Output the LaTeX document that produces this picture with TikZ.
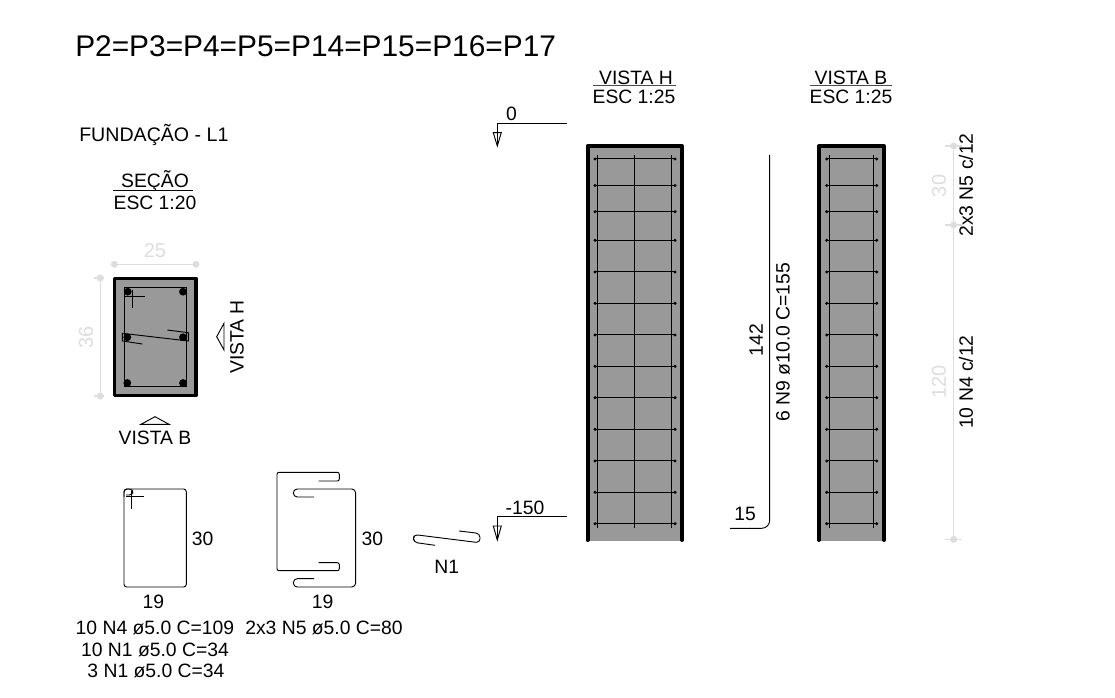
\documentclass[tikz,border=0pt]{standalone}
\usepackage{fontspec}
\setmainfont{Liberation Sans}
\newcommand{\fs}[1]{\fontsize{#1}{#1}\selectfont}
\definecolor{dimc}{HTML}{DDDDDD}
\definecolor{concc}{HTML}{999999}
\tikzset{
  txt/.style={inner sep=0pt,text=black,font=\fs{14.5}},
  title/.style={inner sep=0pt,text=black,font=\fs{22.4}},
  dimtxt/.style={inner sep=0pt,text=dimc,font=\fs{15}},
  dimline/.style={draw=dimc,line width=1pt},
  dimdot/.style={fill=dimc,draw=none},
  thin line/.style={draw=black,line width=0.7pt},
  conc/.style={fill=concc,draw=none},
  heavy/.style={draw=black,line width=3pt,line cap=round,line join=round},
  sectheavy/.style={draw=black,line width=2.6pt,line cap=round,line join=round},
  bar/.style={draw=black,line width=0.75pt},
  bardot/.style={fill=black,draw=none},
}
\begin{document}
\begin{tikzpicture}[x=0.75pt,y=-0.75pt]
\useasboundingbox (0,0) rectangle (1115,698);
% titles
\node[title,anchor=west] (t) at (75,46) {P2=P3=P4=P5=P14=P15=P16=P17};
\node[txt,anchor=west,font=\fs{14.7}] (fund) at (79,135) {FUNDAÇÃO - L1};
\node[txt] (sec) at (155,181) {SEÇÃO};
\node[txt] (secesc) at (155,202.5) {ESC 1:20};
\draw[thin line] (113,190.5) -- (193,190.5);
\node[txt] (vh) at (636,78) {VISTA H};
\node[txt] (vhesc) at (634,97) {ESC 1:25};
\draw[thin line,draw=black!70] (593,85.7) -- (676,85.7);
\node[txt] (vb) at (851,78) {VISTA B};
\node[txt] (vbesc) at (851,97) {ESC 1:25};
\draw[thin line,draw=black!70] (810,85.7) -- (892,85.7);
% section
\fill[conc] (114.5,278.5) rectangle (196,395.5);
\draw[sectheavy] (114.5,278.5) rectangle (196,395.5);
\draw[bar] (124,287.7) rectangle (186.3,386.7);
\foreach \p in {(127.7,291.7),(183,291.7),(127.3,337.3),(183,337.3),(127.3,383),(183,383)}
  \fill[bardot] \p circle (3.9);
\draw[thin line] (124.3,296) -- (144.7,296) (132,290) -- (132,308.3);
\draw[thin line] (142.3,344) -- (122.3,341) -- (122.3,333.3) -- (188.3,341) -- (188.3,332.7) -- (167.3,330);
\draw[dimline] (114.3,264.3) -- (196,264.3);
\fill[dimdot] (114.3,264.3) circle (3.5) (196,264.3) circle (3.5);
\draw[dimline] (100.3,278) -- (100.3,396) (94,278) -- (104,278) (94,396) -- (104,396);
\fill[dimdot] (100.3,278) circle (3.5) (100.3,396) circle (3.5);
\node[dimtxt] (d25) at (155,251) {25};
\node[dimtxt,rotate=90] (d36) at (86,337) {36};
\node[txt,rotate=90] (vistah) at (237,337) {VISTA H};
\draw[thin line] (224,323.3) -- (216.7,336.7) -- (224,350) -- cycle;
\node[txt] (vistab) at (155,438) {VISTA B};
\draw[thin line] (141,424.3) -- (155,416.7) -- (169,424.3) -- cycle;
% N4
\draw[thin line,rounded corners=2] (124,489) rectangle (186.3,587);
\draw[thin line,rounded corners=2.5] (124,497) -- (124,489) -- (132.7,489) -- (132.7,495) -- (126,495);
\draw[thin line] (126,496.7) -- (144.3,496.7) (131.7,490.7) -- (131.7,509.3);
\node[txt] (a30) at (202.7,539) {30};
\node[txt] (a19) at (153.3,602) {19};
% N5
\draw[thin line,rounded corners=1.5] (318.7,481) -- (339.3,481) -- (339.3,472.3) -- (277,472.3) -- (277,570.7) -- (339.3,570.7) -- (339.3,562.7) -- (318.7,562.7);
\draw[thin line,rounded corners=3] (314,497) -- (293.3,497) -- (293.3,489) -- (355.7,489) -- (355.7,587) -- (293.3,587) -- (293.3,578.7) -- (314,578.7);
\node[txt] (b30) at (372.3,539) {30};
\node[txt] (b19) at (322.7,602) {19};
% N1
\draw[thin line,rounded corners=3] (435,545.3) -- (413.5,542.3) -- (413.5,534.5) -- (480,542.8) -- (480,533.5) -- (459,531);
\node[txt] (n1) at (446.7,567) {N1};
% bottom text
\node[txt] (l1) at (155,628) {10 N4 ø5.0 C=109};
\node[txt] (l2) at (324,628) {2x3 N5 ø5.0 C=80};
\node[txt] (l3) at (155,650) {10 N1 ø5.0 C=34};
\node[txt] (l4) at (156,671) {3 N1 ø5.0 C=34};
% levels
\draw[thin line] (566.7,123.3) -- (497.3,123.3) -- (497.3,146);
\draw[thin line] (493.3,132.7) -- (501.3,132.7) -- (497.3,146) -- cycle;
\node[txt] (l0) at (511.5,114) {0};
\draw[thin line] (566.7,516.7) -- (497.3,516.7) -- (497.3,540);
\draw[thin line] (493.3,526) -- (501.3,526) -- (497.3,540) -- cycle;
\node[txt] (l150) at (525,508) {-150};
% view H
\fill[conc] (587.5,146) rectangle (682,541);
\draw[heavy] (587.5,540) -- (587.5,146) -- (682,146) -- (682,540);
\foreach \y in {159,185.5,211.7,240.3,272,303.3,335,366.3,397.7,429.3,461,492.3,523.7}{
  \draw[bar] (595,\y) -- (675,\y);
  \fill[bardot] (595,\y) circle (1.7) (675,\y) circle (1.7);
}
\draw[bar] (597.7,155) -- (597.7,527.7) (634.3,155) -- (634.3,527.7) (671.7,155) -- (671.7,527.7);
% view B
\fill[conc] (819,146) rectangle (884,541);
\draw[heavy] (819,540) -- (819,146) -- (884,146) -- (884,540);
\foreach \y in {159,185.5,211.7,240.3,272,303.3,335,366.3,397.7,429.3,461,492.3,523.7}{
  \draw[bar] (826.7,\y) -- (876.7,\y);
  \fill[bardot] (826.7,\y) circle (1.7) (876.7,\y) circle (1.7);
}
\draw[bar] (829,155) -- (829,527.7) (873.3,155) -- (873.3,527.7);
% N9
\draw[thin line,rounded corners=6] (769.7,155) -- (769.7,528.3) -- (730,528.3);
\node[txt] (n15) at (745,514) {15};
\node[txt,rotate=90] (n142) at (756,340) {142};
\node[txt,rotate=90] (n9) at (783,342) {6 N9 ø10.0 C=155};
% right dim
\draw[dimline] (953.7,146) -- (953.7,539.3);
\draw[dimline] (945,146) -- (962,146) (945,225) -- (962,225) (945,539.3) -- (962,539.3);
\fill[dimdot] (953.7,146) circle (3.5) (953.7,225) circle (3.5) (953.7,539.3) circle (3.5);
\node[dimtxt,rotate=90] (d30) at (939,186) {30};
\node[dimtxt,rotate=90] (d120) at (939,382) {120};
\node[txt,rotate=90] (s1) at (966,185) {2x3 N5 c/12};
\node[txt,rotate=90] (s2) at (966,382) {10 N4 c/12};
\end{tikzpicture}
\end{document}
